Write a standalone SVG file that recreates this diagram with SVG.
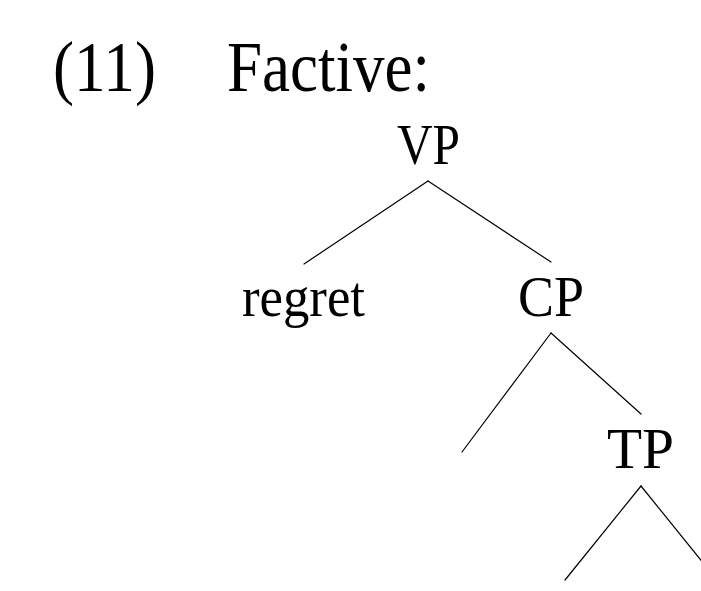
<svg xmlns="http://www.w3.org/2000/svg" width="701" height="591" viewBox="0 0 701 591">
<style>
text{font-family:"Liberation Serif","Times New Roman",serif;fill:#000}
.t{font-size:71px}
.n{font-size:57px}
.e{stroke:#000;stroke-width:1.2;fill:none;stroke-linecap:round}
</style>
<rect width="701" height="591" fill="#fff"/>
<g id="title">
<text class="t" x="53" y="91" textLength="103" lengthAdjust="spacingAndGlyphs">(11)</text>
<text class="t" x="227" y="91" textLength="203" lengthAdjust="spacingAndGlyphs">Factive:</text>
</g>
<g id="connectors">
<line class="e" x1="428" y1="181" x2="304" y2="264"/>
<line class="e" x1="428" y1="181" x2="551" y2="262"/>
<line class="e" x1="551" y1="333" x2="462" y2="452"/>
<line class="e" x1="551" y1="333" x2="641" y2="414"/>
<line class="e" x1="641" y1="486" x2="565" y2="580"/>
<line class="e" x1="641" y1="486" x2="717" y2="580"/>
</g>
<g id="VP"><text class="n" x="397" y="164" textLength="63" lengthAdjust="spacingAndGlyphs">VP</text></g>
<g id="regret"><text class="n" x="242" y="316" textLength="123" lengthAdjust="spacingAndGlyphs">regret</text></g>
<g id="CP"><text class="n" x="518" y="316" textLength="66" lengthAdjust="spacingAndGlyphs">CP</text></g>
<g id="TP"><text class="n" x="607" y="468" textLength="67" lengthAdjust="spacingAndGlyphs">TP</text></g>
</svg>
